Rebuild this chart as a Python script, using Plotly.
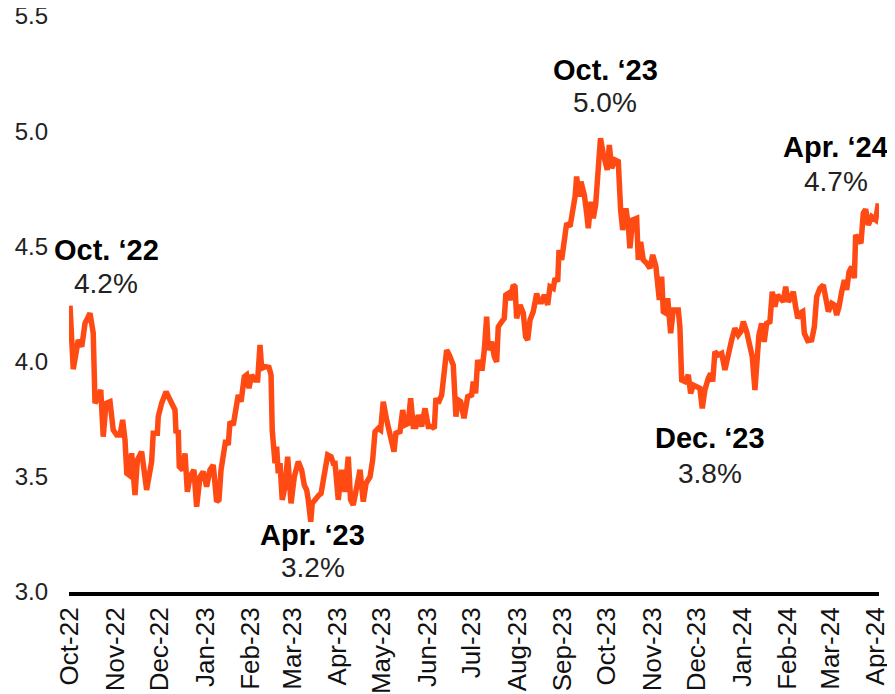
import pandas as pd
import plotly.graph_objects as go

# ---- data (10-year yield, %) ----
start_date = "2022-10-21"
days_since_start = [
    0, 2.2, 5.6, 8.0, 10.2, 13.6, 15.8, 17.0, 19.2, 20.9, 22.6, 24.5, 27.2, 29.4, 31.8, 34.0,
    35.8, 37.4, 38.6, 40.1, 41.9, 44.2, 45.8, 48.7, 52.1, 55.5, 56.6, 59.4, 60.0, 62.3, 65.3,
    68.0, 71.4, 72.1, 73.6, 74.3, 76.6, 78.2, 79.8, 81.6, 84.3, 86.1,
    88.4, 90.6, 92.9, 95.2, 97.4, 99.7, 101.3, 102.7, 104.2, 105.9, 107.6, 108.8, 111.0, 113.3,
    114.4, 116.3, 118.5, 120.1, 121.7, 123.5, 125.8, 127.6, 129.2, 130.3, 132.6, 135.3, 136.7,
    137.5, 139.4, 140.5, 141.6, 142.8, 144.3, 146.2, 148.0, 150.3, 152.5, 155.2, 157.5, 159.3,
    160.9, 162.0, 163.7, 164.7, 167.0, 169.3, 170.7, 172.9, 175.2, 177.5, 179.0,
    180.2, 182.4, 184.7, 187.0, 189.2, 190.8, 192.6, 194.9, 197.2, 199.4, 201.3, 204.0, 205.8,
    207.4, 209.6, 211.2, 213.0, 215.3, 217.6, 220.3, 221.6, 224.4, 226.2, 227.8, 230.0, 231.6,
    233.4, 235.2, 236.8, 239.1, 241.4, 243.6, 245.9, 247.7, 248.8, 250.4, 252.7, 254.3, 256.1,
    257.9, 260.6, 262.4, 264.0, 265.6, 267.9, 270.4, 273.1,
    274.2, 275.8, 277.2, 278.8, 280.3, 281.7, 283.3, 284.4, 286.7, 288.5, 290.1, 291.2, 293.5,
    295.3, 296.3, 298.0, 299.2, 301.4, 302.6, 303.7, 306.0, 308.2, 309.8, 311.2, 312.8, 315.0,
    317.3, 318.9, 320.7, 322.5, 324.8, 326.4, 328.6, 329.8, 331.6, 332.5, 334.3, 336.1, 337.7,
    340.0, 341.5, 343.4, 344.5, 346.1, 347.4, 349.7, 351.3, 352.4, 354.2, 355.8, 357.4, 358.8,
    360.7, 362.5,
    363.7, 365.3, 366.7, 368.3, 370.6, 372.8, 374.4, 375.8, 378.0, 379.6, 380.7, 382.6, 385.3,
    386.4, 388.0, 389.8, 392.1, 394.3, 396.2, 398.4, 400.7, 402.3, 403.4, 405.2, 406.4, 408.4,
    410.2, 413.6, 414.7, 415.9, 418.1, 420.4, 422.0, 423.8, 426.1, 428.3, 429.9, 431.7, 434.0,
    435.6, 437.0, 438.5, 440.8, 443.1, 445.3, 447.6, 449.9, 452.1, 454.4, 456.2, 457.8, 460.1,
    462.3, 463.9, 465.7, 466.9, 468.4, 470.3, 472.0, 473.7, 475.9, 477.5, 479.3, 481.1, 483.4,
    485.0, 486.6, 488.4, 490.2, 491.8, 493.4, 494.8, 496.3, 498.2, 499.3, 501.6, 504.3, 506.1,
    507.7, 509.9, 512.2, 513.8, 515.6, 517.9, 519.7, 521.3, 522.9, 524.7, 526.5, 528.1, 529.7,
    531.5, 533.3, 534.2, 536.0, 537.8, 539.4, 541.0, 542.8, 545.1, 547.8, 549.6,
]
yield_pct = [
    4.243, 3.967, 4.094, 4.065, 4.166, 4.21, 4.123, 3.819, 3.848, 3.877, 3.674, 3.819, 3.826, 3.703, 3.681, 3.681,
    3.747, 3.66, 3.515, 3.508, 3.602, 3.421, 3.573, 3.609, 3.443, 3.566, 3.689, 3.689, 3.761, 3.819, 3.869,
    3.833, 3.79, 3.689, 3.703, 3.544, 3.53, 3.602, 3.435, 3.50, 3.53, 3.37,
    3.50, 3.522, 3.457, 3.53, 3.551, 3.392, 3.40, 3.53, 3.587, 3.66, 3.638, 3.739, 3.725, 3.804,
    3.855, 3.826, 3.934, 3.942, 3.884, 3.942, 3.92, 3.92, 4.072, 3.971, 3.978, 3.975, 3.942,
    3.703, 3.559, 3.631, 3.515, 3.559, 3.40, 3.457, 3.587, 3.385, 3.50, 3.566, 3.53, 3.464,
    3.443, 3.40, 3.305, 3.385, 3.407, 3.421, 3.428, 3.53, 3.595, 3.587, 3.559,
    3.559, 3.40, 3.53, 3.435, 3.587, 3.40, 3.378, 3.472, 3.53, 3.392, 3.472, 3.50, 3.573,
    3.696, 3.71, 3.703, 3.826, 3.747, 3.674, 3.609, 3.689, 3.696, 3.79, 3.725, 3.732, 3.841,
    3.718, 3.718, 3.768, 3.718, 3.797, 3.718, 3.718, 3.71, 3.841, 3.819, 3.855, 3.964, 4.05,
    4.029, 3.985, 3.761, 3.833, 3.826, 3.754, 3.848, 3.855,
    3.913, 3.862, 4.007, 3.971, 3.971, 4.05, 4.195, 4.05, 4.086, 4.021, 3.999, 4.151, 4.173,
    4.188, 4.289, 4.296, 4.267, 4.332, 4.325, 4.188, 4.246, 4.21, 4.108, 4.094, 4.181, 4.217,
    4.296, 4.26, 4.26, 4.289, 4.246, 4.325, 4.318, 4.362, 4.347, 4.484, 4.441, 4.542, 4.60,
    4.586, 4.636, 4.716, 4.803, 4.716, 4.781, 4.723, 4.644, 4.579, 4.694, 4.622, 4.68, 4.832,
    4.97, 4.904,
    4.875, 4.832, 4.94, 4.839, 4.875, 4.868, 4.658, 4.571, 4.665, 4.593, 4.492, 4.615, 4.622,
    4.441, 4.52, 4.441, 4.427, 4.405, 4.463, 4.412, 4.267, 4.369, 4.217, 4.21, 4.275, 4.123,
    4.224, 4.224, 4.151, 3.92, 3.913, 3.942, 3.862, 3.898, 3.891, 3.884, 3.797, 3.877, 3.928,
    3.949, 3.913, 4.043, 4.029, 4.036, 3.964, 4.036, 4.094, 4.145, 4.115, 4.13, 4.173, 4.13,
    4.065, 4.021, 3.877, 4.021, 4.115, 4.166, 4.086, 4.166, 4.173, 4.303, 4.238, 4.289, 4.267,
    4.26, 4.325, 4.26, 4.275, 4.303, 4.238, 4.188, 4.21, 4.217, 4.123, 4.091, 4.094, 4.151,
    4.282, 4.318, 4.332, 4.282, 4.217, 4.253, 4.246, 4.202, 4.238, 4.303, 4.354, 4.311, 4.39,
    4.412, 4.362, 4.55, 4.535, 4.513, 4.644, 4.661, 4.593, 4.629, 4.615, 4.687,
]

tick_dates = [
    "2022-10-21", "2022-11-21", "2022-12-21", "2023-01-21", "2023-02-21", "2023-03-21",
    "2023-04-21", "2023-05-21", "2023-06-21", "2023-07-21", "2023-08-21", "2023-09-21",
    "2023-10-21", "2023-11-21", "2023-12-21", "2024-01-21", "2024-02-21", "2024-03-21",
    "2024-04-21",
]
tick_labels = [
    "Oct-22", "Nov-22", "Dec-22", "Jan-23", "Feb-23", "Mar-23", "Apr-23", "May-23", "Jun-23",
    "Jul-23", "Aug-23", "Sep-23", "Oct-23", "Nov-23", "Dec-23", "Jan-24", "Feb-24", "Mar-24",
    "Apr-24",
]
y_ticks = [3.0, 3.5, 4.0, 4.5, 5.0, 5.5]

callout_titles = ["Oct. ‘22", "Apr. ‘23", "Oct. ‘23", "Dec. ‘23", "Apr. ‘24"]
callout_values = ["4.2%", "3.2%", "5.0%", "3.8%", "4.7%"]

# ---- layout (page has an 8px body margin; compensate) ----
PAGE_OFF = 8
W, H = 895 - PAGE_OFF, 694 - PAGE_OFF
PLOT_LEFT, PLOT_RIGHT, PLOT_TOP, PLOT_BOTTOM = 69, 879, 16, 592   # page pixels
L = PLOT_LEFT - PAGE_OFF
R = (PAGE_OFF + W) - PLOT_RIGHT
T = PLOT_TOP - PAGE_OFF
B = (PAGE_OFF + H) - PLOT_BOTTOM
PW, PH = W - L - R, H - T - B

# callout label centres in page pixels (title, value)
title_pos = [(106.5, 250), (312.5, 535), (605.5, 70), (710, 438), (835, 147)]
value_pos = [(105.5, 283), (312.5, 567), (604.7, 103), (709.7, 473), (836, 181)]

def px_to_paper(px, py):
    return (px - PLOT_LEFT) / PW, (PLOT_BOTTOM - py) / PH

start = pd.Timestamp(start_date)
x_dates = start + pd.to_timedelta(days_since_start, unit="D")

LINE = "#FF4A14"
fig = go.Figure()
fig.add_trace(go.Scatter(
    x=x_dates, y=yield_pct, mode="lines",
    line=dict(color=LINE, width=5.5),
    hoverinfo="skip", showlegend=False,
))

FONT = "Liberation Sans, Arial, sans-serif"
annotations = []
for t, (px, py) in zip(callout_titles, title_pos):
    xp, yp = px_to_paper(px, py)
    annotations.append(dict(
        x=xp, y=yp, xref="paper", yref="paper", text=f"<b>{t}</b>", showarrow=False,
        xanchor="center", yanchor="middle",
        font=dict(family=FONT, size=29, color="#000000"),
    ))
for t, (px, py) in zip(callout_values, value_pos):
    xp, yp = px_to_paper(px, py)
    annotations.append(dict(
        x=xp, y=yp, xref="paper", yref="paper", text=t, showarrow=False,
        xanchor="center", yanchor="middle",
        font=dict(family=FONT, size=28, color="#222222"),
    ))

x0 = start - pd.Timedelta(days=0.68)
x1 = start + pd.Timedelta(days=550.07)

fig.update_layout(
    width=W, height=H,
    margin=dict(l=L, r=R, t=T, b=B, pad=0),
    paper_bgcolor="white", plot_bgcolor="white",
    annotations=annotations,
    xaxis=dict(
        type="date", range=[x0, x1], automargin=False,
        tickvals=tick_dates, ticktext=tick_labels, tickangle=-90,
        showgrid=False, zeroline=False,
        showline=True, linecolor="#000000", linewidth=4,
        ticks="", ticklabelstandoff=1, ticklabeloverflow="allow",
        tickfont=dict(family=FONT, size=26, color="#111111"),
    ),
    yaxis=dict(
        range=[3.0, 5.5], automargin=False,
        tickvals=y_ticks, ticktext=[f"{v:.1f}" for v in y_ticks],
        showgrid=False, zeroline=False, showline=False,
        ticks="", ticklabelstandoff=20, ticklabeloverflow="allow",
        tickfont=dict(family=FONT, size=24, color="#222222"),
    ),
)

fig.write_html("out.html")
